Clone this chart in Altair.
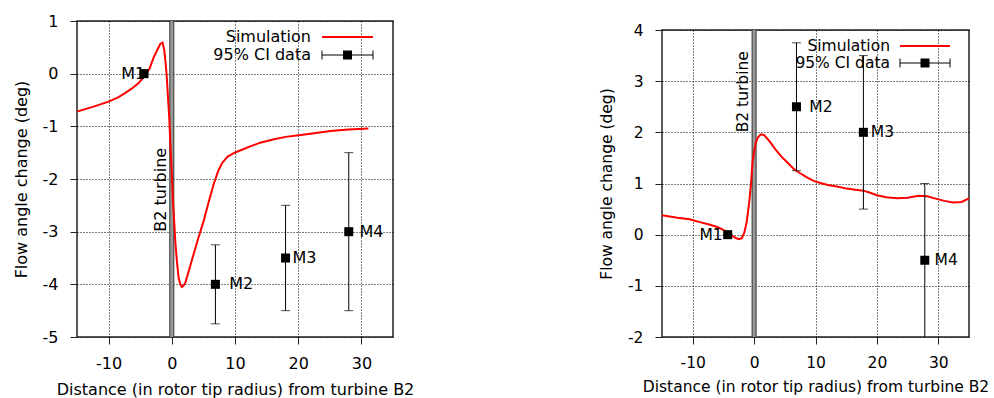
import altair as alt
import pandas as pd

FONT = "DejaVu Sans"

# ---------------- Left panel data ----------------
left_sim_x = [-15, -12.5, -10, -8.5, -7.4, -6.3, -5.25, -4.2, -3.5, -2.9, -2.3, -1.8, -1.45,
              -1.2, -1.0, -0.8, -0.6, -0.4, -0.24, 0, 0.19, 0.4, 0.55, 0.8, 1.08, 1.35, 1.6,
              1.9, 2.14, 2.8, 3.45, 4.2, 5.03, 5.8, 6.6, 7.3, 7.94, 8.8, 9.8, 11, 12.4, 14,
              16, 18, 20.1, 22.5, 25.1, 28, 31.1]
left_sim_y = [-0.72, -0.63, -0.53, -0.45, -0.37, -0.28, -0.18, -0.03, 0.10, 0.30, 0.45, 0.57,
              0.59, 0.45, 0.23, -0.05, -0.45, -0.85, -1.3, -1.9, -2.42, -2.85, -3.18, -3.55,
              -3.88, -4.0, -4.05, -4.02, -3.97, -3.70, -3.43, -3.12, -2.80, -2.45, -2.11,
              -1.86, -1.70, -1.58, -1.51, -1.45, -1.38, -1.31, -1.25, -1.20, -1.17, -1.13,
              -1.09, -1.06, -1.04]
left_pt_x = [-4.4, 6.9, 18.0, 28.0]
left_pt_y = [0.0, -4.0, -3.5, -3.0]
left_pt_lo = [0.0, -4.75, -4.5, -4.5]
left_pt_hi = [0.0, -3.25, -2.5, -1.5]
left_lab_x = [-8.0, 9.1, 19.1, 29.7]
left_y_ticks = [-5, -4, -3, -2, -1, 0, 1]
left_turbine_text_y = -3.0

# ---------------- Right panel data ----------------
right_sim_x = [-15, -12.5, -10.5, -9, -7.3, -6, -5.1, -4.3, -3.5, -2.9, -2.4, -2.0, -1.6, -1.2,
               -0.8, -0.5, -0.26, 0, 0.28, 0.6, 1.1, 1.6, 2.2, 2.8, 3.5, 4.5, 5.5, 6.5, 7.5,
               8.6, 9.7, 10.8, 12, 13.5, 15.1, 16.5, 17.8, 18.9, 20.0, 21.5, 23.3, 25, 26.8,
               28.2, 29.7, 31, 32.4, 33.8, 35]
right_sim_y = [0.38, 0.33, 0.30, 0.25, 0.20, 0.15, 0.10, 0.05, -0.03, -0.07, -0.09, -0.07, 0.04,
               0.25, 0.63, 1.0, 1.41, 1.62, 1.80, 1.90, 1.96, 1.95, 1.87, 1.78, 1.66, 1.52,
               1.40, 1.28, 1.20, 1.12, 1.05, 1.01, 0.97, 0.94, 0.90, 0.88, 0.86, 0.82, 0.77,
               0.73, 0.71, 0.72, 0.76, 0.75, 0.70, 0.66, 0.63, 0.64, 0.71]
right_pt_x = [-4.3, 6.9, 17.8, 27.8]
right_pt_y = [0.0, 2.5, 2.0, -0.5]
right_pt_lo = [0.0, 1.25, 0.5, -2.5]
right_pt_hi = [0.0, 3.75, 3.5, 1.0]
right_lab_x = [-8.9, 9.0, 19.0, 29.4]
right_y_ticks = [-2, -1, 0, 1, 2, 3, 4]
right_turbine_text_y = 2.0

point_names = ["M1", "M2", "M3", "M4"]
x_ticks = [-10, 0, 10, 20, 30]
x_domain = [-15, 35]
legend_labels = ["Simulation", "95% CI data"]
turbine_label = "B2 turbine"
x_title = "Distance (in rotor tip radius) from turbine B2"
y_title = "Flow angle change (deg)"

HYPHEN = "replace(datum.label, '\u2212', '-')"


def make_panel(sim_x, sim_y, pt_x, pt_y, pt_lo, pt_hi, lab_x, y_ticks, turb_y,
               w, h, fs, xtitle_pad, leg_right, leg_line0, leg_line1, leg_y0, leg_y1):
    ydom = [min(y_ticks), max(y_ticks)]
    xs = alt.Scale(domain=x_domain, nice=False, zero=False)
    ys = alt.Scale(domain=ydom, nice=False, zero=False)
    common = dict(grid=True, gridColor="black", gridDash=[1, 2], gridOpacity=1, gridWidth=1,
                  domain=False, tickColor="#222222", tickSize=7, labelFontSize=fs,
                  labelFont=FONT, labelColor="black", titleFont=FONT, titleFontSize=fs,
                  titleFontWeight="normal", titleColor="black", labelExpr=HYPHEN)
    xaxis = alt.Axis(values=x_ticks, title=x_title, labelPadding=11,
                     titlePadding=xtitle_pad, **common)
    yaxis = alt.Axis(values=y_ticks, title=y_title, labelPadding=12, titlePadding=13,
                     **common)

    sim = pd.DataFrame({"x": sim_x, "y": sim_y})
    pts = pd.DataFrame({"x": pt_x, "y": pt_y, "lo": pt_lo, "hi": pt_hi,
                        "name": point_names, "lx": lab_x})
    turb = pd.DataFrame({"x": [0.0], "y": [turb_y], "t": [turbine_label]})
    leg = pd.DataFrame({"t": legend_labels})

    base_axes = alt.Chart(sim).mark_line(opacity=0).encode(
        x=alt.X("x:Q", scale=xs, axis=xaxis),
        y=alt.Y("y:Q", scale=ys, axis=yaxis),
    )

    turb_band = alt.Chart(turb).mark_rule(color="#9a9a9a", strokeWidth=4).encode(
        x=alt.X("x:Q", scale=xs))
    turb_e1 = alt.Chart(turb).mark_rule(color="#333333", strokeWidth=1, xOffset=-2).encode(
        x=alt.X("x:Q", scale=xs))
    turb_e2 = alt.Chart(turb).mark_rule(color="#333333", strokeWidth=1, xOffset=2).encode(
        x=alt.X("x:Q", scale=xs))
    turb_text = alt.Chart(turb).mark_text(angle=270, align="left", baseline="alphabetic",
                                          dy=-6, fontSize=fs, font=FONT,
                                          color="black").encode(
        x=alt.X("x:Q", scale=xs), y=alt.Y("y:Q", scale=ys), text="t:N")

    line = alt.Chart(sim).mark_line(color="#ff0000", strokeWidth=2, clip=True).encode(
        x=alt.X("x:Q", scale=xs), y=alt.Y("y:Q", scale=ys))

    err = alt.Chart(pts).mark_rule(color="black", strokeWidth=1, clip=True).encode(
        x=alt.X("x:Q", scale=xs), y=alt.Y("lo:Q", scale=ys), y2="hi:Q")
    cap_lo = alt.Chart(pts).mark_tick(color="black", orient="horizontal", size=9,
                                      thickness=1, clip=True).encode(
        x=alt.X("x:Q", scale=xs), y=alt.Y("lo:Q", scale=ys))
    cap_hi = alt.Chart(pts).mark_tick(color="black", orient="horizontal", size=9,
                                      thickness=1, clip=True).encode(
        x=alt.X("x:Q", scale=xs), y=alt.Y("hi:Q", scale=ys))
    sq = alt.Chart(pts).mark_square(color="black", size=81, opacity=1, filled=True).encode(
        x=alt.X("x:Q", scale=xs), y=alt.Y("y:Q", scale=ys))
    labs = alt.Chart(pts).mark_text(align="left", baseline="middle", fontSize=fs, font=FONT,
                                    color="black").encode(
        x=alt.X("lx:Q", scale=xs), y=alt.Y("y:Q", scale=ys), text="name:N")

    # legend (drawn manually: text on the left, sample on the right)
    first = alt.datum.t == legend_labels[0]
    second = alt.datum.t == legend_labels[1]
    leg_sim_t = alt.Chart(leg).transform_filter(first).mark_text(
        align="right", baseline="middle", fontSize=fs, font=FONT, color="black").encode(
        x=alt.value(leg_right), y=alt.value(leg_y0), text="t:N")
    leg_ci_t = alt.Chart(leg).transform_filter(second).mark_text(
        align="right", baseline="middle", fontSize=fs, font=FONT, color="black").encode(
        x=alt.value(leg_right), y=alt.value(leg_y1), text="t:N")
    leg_line = alt.Chart(leg).transform_filter(first).mark_rule(
        color="#ff0000", strokeWidth=2).encode(
        x=alt.value(leg_line0), x2=alt.value(leg_line1), y=alt.value(leg_y0))
    leg_err = alt.Chart(leg).transform_filter(second).mark_rule(
        color="black", strokeWidth=1).encode(
        x=alt.value(leg_line0), x2=alt.value(leg_line1), y=alt.value(leg_y1))
    leg_cap0 = alt.Chart(leg).transform_filter(second).mark_rule(
        color="black", strokeWidth=1).encode(
        x=alt.value(leg_line0), y=alt.value(leg_y1 - 4.5), y2=alt.value(leg_y1 + 4.5))
    leg_cap1 = alt.Chart(leg).transform_filter(second).mark_rule(
        color="black", strokeWidth=1).encode(
        x=alt.value(leg_line1), y=alt.value(leg_y1 - 4.5), y2=alt.value(leg_y1 + 4.5))
    leg_sq = alt.Chart(leg).transform_filter(second).mark_square(
        color="black", size=81, opacity=1, filled=True).encode(
        x=alt.value((leg_line0 + leg_line1) / 2), y=alt.value(leg_y1))

    return alt.layer(base_axes, turb_band, turb_e1, turb_e2, turb_text, line, err, cap_lo,
                     cap_hi, sq, labs, leg_sim_t, leg_ci_t, leg_line, leg_err, leg_cap0,
                     leg_cap1, leg_sq).properties(
        width=w, height=h,
        view=alt.ViewBackground(stroke="#222222", strokeWidth=1.5))


left = make_panel(left_sim_x, left_sim_y, left_pt_x, left_pt_y, left_pt_lo, left_pt_hi,
                  left_lab_x, left_y_ticks, left_turbine_text_y, 316, 316, 16, 10,
                  234, 245, 296, 16, 34)
right = make_panel(right_sim_x, right_sim_y, right_pt_x, right_pt_y, right_pt_lo, right_pt_hi,
                   right_lab_x, right_y_ticks, right_turbine_text_y, 307, 307, 15.5, 8.5,
                   228, 238, 288, 16, 33)

# invisible spacer that pushes the right panel down a little
spacer = alt.Chart(pd.DataFrame({"t": [""]})).mark_rule(strokeOpacity=0, strokeWidth=1).encode(
    x=alt.value(0), y=alt.value(0), y2=alt.value(1)).properties(
    width=307, height=1,
    view=alt.ViewBackground(strokeOpacity=0, fillOpacity=0, strokeWidth=0))

right_col = alt.vconcat(spacer, right, spacing=0)

chart = alt.hconcat(left, right_col, spacing=183).properties(
    padding={"left": 12, "top": 12, "right": 2, "bottom": 0}
).configure_view(strokeWidth=0).configure(font=FONT)

chart.save("out.html", embed_options={"renderer": "svg", "actions": False})
